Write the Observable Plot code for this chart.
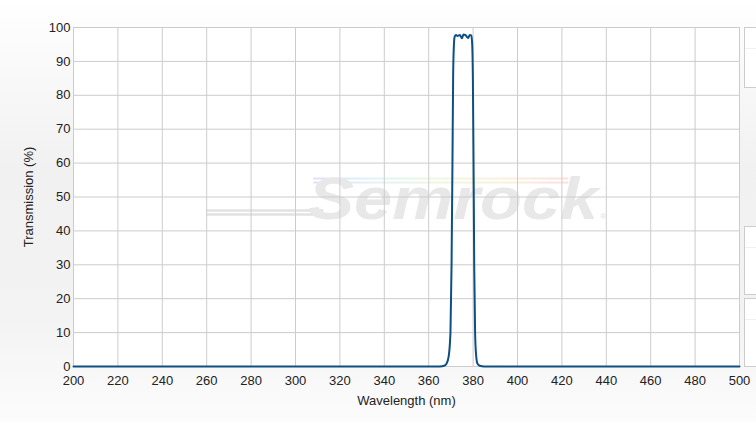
<!DOCTYPE html>
<html><head><meta charset="utf-8">
<script src="https://cdn.jsdelivr.net/npm/d3@7"></script>
<script src="https://cdn.jsdelivr.net/npm/@observablehq/plot@0.6"></script>
<style>
html,body{margin:0;padding:0;}
body{width:756px;height:422px;overflow:hidden;position:relative;
  background:linear-gradient(to bottom,#ffffff 0%,#f1f1f1 40%,#f3f3f3 75%,#fcfcfc 100%);
  font-family:"Liberation Sans",Arial,sans-serif;}
#chart{position:absolute;left:0;top:0;}
.panel{position:absolute;left:744px;width:20px;background:#fff;border:1px solid #ccc;box-sizing:border-box;}
.panel::after{content:"";position:absolute;left:0;right:0;top:20px;border-top:1px solid #f0f0f0;}
</style></head>
<body>
<div id="chart"></div>
<div class="panel" style="top:27px;height:61px"></div>
<div class="panel" style="top:226px;height:69px"></div>
<div class="panel" style="top:298px;height:69px"></div>
<script>
// Wavelength (nm) and transmission (%)
const wavelengths = [200, 300, 360, 365, 367, 368, 369, 369.8, 370.3, 370.7, 371.0, 371.3, 371.7, 372.3, 373.0, 374.0, 375.0, 375.6, 376.5, 377.3, 377.8, 378.5, 379.2, 379.6, 379.9, 380.2, 380.5, 380.9, 381.4, 382.0, 383.0, 385.0, 400, 500];
const transmission = [0, 0, 0, 0, 0.2, 0.8, 3, 10, 30, 60, 85, 94, 97.3, 97.8, 97.5, 97.8, 96.8, 97.9, 97.8, 97.2, 96.9, 97.8, 97.7, 95, 85, 60, 30, 10, 3, 0.8, 0.2, 0, 0, 0];
const xTicks = [200, 220, 240, 260, 280, 300, 320, 340, 360, 380, 400, 420, 440, 460, 480, 500];
const yTicks = [0, 10, 20, 30, 40, 50, 60, 70, 80, 90, 100];
const xLabel = "Wavelength (nm)";
const yLabel = "Transmission (%)";
const watermarkText = "Semrock";

const data = wavelengths.map((w, i) => ({nm: w, t: transmission[i]}));

function watermark(index, scales, values, dimensions) {
  const {marginLeft, marginTop, width, height, marginRight, marginBottom} = dimensions;
  const fw = width - marginLeft - marginRight, fh = height - marginTop - marginBottom;
  const g = d3.create("svg:g").attr("pointer-events", "none");
  const cx = marginLeft + fw * 0.571, by = marginTop + fh * 0.565;
  // rainbow streaks
  const cols = ["#dfe0f7", "#e3f3f6", "#eef7e0", "#f9f1dc", "#f9e0e0"];
  const grad = g.append("defs").append("linearGradient").attr("id", "rb");
  cols.forEach((c, i) => grad.append("stop").attr("offset", i / (cols.length - 1)).attr("stop-color", c));
  [0, 4].forEach(o => g.append("rect").attr("x", cx - 140).attr("y", by - 41 + o).attr("width", 255).attr("height", 2).attr("fill", "url(#rb)"));
  // gray swoosh lines
  [0, 4].forEach(o => g.append("path")
    .attr("d", `M${marginLeft + fw * 0.2},${by - 8 + o} L${cx - 130},${by - 8 + o}`)
    .attr("stroke", "#e2e2e2").attr("stroke-width", 2.5).attr("fill", "none"));
  g.append("text").attr("x", cx).attr("y", by).attr("text-anchor", "middle")
    .attr("font-family", "Liberation Sans, Arial, sans-serif").attr("font-weight", "bold").attr("font-style", "italic")
    .attr("font-size", 60).attr("fill", "#e8e8e8")
    .attr("textLength", 290).attr("lengthAdjust", "spacingAndGlyphs")
    .text(watermarkText);
  g.append("text").attr("x", cx + 150).attr("y", by).attr("font-size", 8).attr("fill", "#e0e0e0").text("®");
  return g.node();
}

const chart = Plot.plot({
  width: 756, height: 422,
  marginLeft: 73, marginRight: 17, marginTop: 27, marginBottom: 56,
  style: {background: "transparent", fontFamily: "Liberation Sans, Arial, sans-serif", fontSize: "13px", color: "#222", overflow: "visible"},
  x: {domain: [200, 500]},
  y: {domain: [0, 100]},
  marks: [
    Plot.frame({fill: "white", stroke: null}),
    watermark,
    Plot.gridX(xTicks, {stroke: "#cccccc", strokeOpacity: 1}),
    Plot.gridY(yTicks, {stroke: "#cccccc", strokeOpacity: 1}),
    Plot.frame({stroke: "#cccccc"}),
    Plot.axisX(xTicks, {tickSize: 0, tickPadding: 9, fontSize: 13, label: xLabel, labelAnchor: "center", labelArrow: "none", labelOffset: 38}),
    Plot.axisY(yTicks, {tickSize: 0, tickPadding: 3, fontSize: 13, label: yLabel, labelAnchor: "center", labelArrow: "none", labelOffset: 50}),
    Plot.line(data, {x: "nm", y: "t", stroke: "#0e4f83", strokeWidth: 2, curve: "monotone-x"})
  ]
});
document.getElementById("chart").appendChild(chart);
</script>
</body></html>
